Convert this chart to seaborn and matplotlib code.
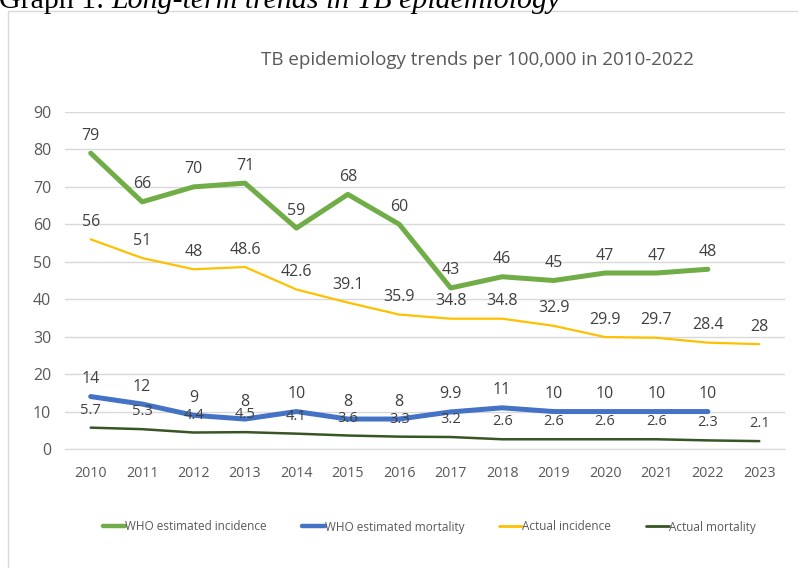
import matplotlib
matplotlib.use("Agg")
import matplotlib.pyplot as plt
import seaborn as sns
import pandas as pd
from matplotlib.patches import Rectangle

# ---- data ----
years = [2010, 2011, 2012, 2013, 2014, 2015, 2016, 2017, 2018, 2019, 2020, 2021, 2022, 2023]
who_incidence = [79, 66, 70, 71, 59, 68, 60, 43, 46, 45, 47, 47, 48]
who_mortality = [14, 12, 9, 8, 10, 8, 8, 9.9, 11, 10, 10, 10, 10]
actual_incidence = [56, 51, 48, 48.6, 42.6, 39.1, 35.9, 34.8, 34.8, 32.9, 29.9, 29.7, 28.4, 28]
actual_mortality = [5.7, 5.3, 4.4, 4.5, 4.1, 3.6, 3.3, 3.2, 2.6, 2.6, 2.6, 2.6, 2.3, 2.1]
series_names = ["WHO estimated incidence", "WHO estimated mortality",
                "Actual incidence", "Actual mortality"]
title = "TB epidemiology trends per 100,000 in 2010-2022"
y_ticks = [0, 10, 20, 30, 40, 50, 60, 70, 80, 90]

sns.set_style("white")
plt.rcParams["font.family"] = ["Open Sans", "DejaVu Sans"]

W, H = 798, 568
fig = plt.figure(figsize=(W / 100, H / 100), dpi=100)

# chart border (cropped at right/bottom)
fig.add_artist(Rectangle((8 / W, -0.1), 1.2, 1 - 11 / H + 0.1, transform=fig.transFigure,
                         fill=False, edgecolor="#D9D9D9", lw=1))

ax = fig.add_axes([65 / W, 1 - 449 / H, 720 / W, 337 / H])

styles = [
    (series_names[0], who_incidence, "#70AD47", 3.6, 11.5),
    (series_names[1], who_mortality, "#4472C4", 3.6, 11.5),
    (series_names[2], actual_incidence, "#FFC000", 1.6, 11.5),
    (series_names[3], actual_mortality, "#375623", 1.8, 10.5),
]

for name, vals, col, lw, _ in styles:
    df = pd.DataFrame({"year": years[:len(vals)], "value": vals})
    sns.lineplot(data=df, x="year", y="value", ax=ax, color=col, linewidth=lw,
                 label=name, solid_capstyle="round", solid_joinstyle="round")

for name, vals, col, lw, fs in styles:
    for x, v in zip(years, vals):
        ax.annotate(f"{v:g}", (x, v), xytext=(0, 12.6), textcoords="offset points",
                    ha="center", va="center", fontsize=fs, color="#404040")

handles, labels = ax.get_legend_handles_labels()
ax.get_legend().remove()

ax.set_xlim(years[0] - 0.5, years[-1] + 0.5)
ax.set_ylim(0, 90)
ax.set_xticks(years)
ax.set_xticklabels([str(y) for y in years])
ax.set_yticks(y_ticks)
ax.set_xlabel("")
ax.set_ylabel("")
ax.tick_params(axis="x", length=0, pad=12, labelsize=10.3, labelcolor="#595959")
ax.tick_params(axis="y", length=0, pad=10, labelsize=11.5, labelcolor="#595959")
ax.yaxis.grid(True, color="#D9D9D9", lw=1)
ax.set_axisbelow(True)
for s in ["left", "right", "top"]:
    ax.spines[s].set_visible(False)
ax.spines["bottom"].set_color("#D9D9D9")
ax.patch.set_alpha(0)

fig.text(477 / W, 1 - 60 / H, title, ha="center", va="center", fontsize=13.5, color="#595959")

leg = fig.legend(handles, labels, loc="center", bbox_to_anchor=(429 / W, 1 - 527 / H), ncol=4,
                 frameon=False, handlelength=1.9, handletextpad=0.0, columnspacing=3.0,
                 prop={"size": 8.5}, labelcolor="#595959")
for h, (_, _, _, lw, _) in zip(leg.get_lines(), styles):
    h.set_linewidth(3.2 if lw > 2 else 2.0)
    h.set_solid_capstyle("round")

# caption (cut off at the top)
t1 = fig.text(-1 / W, 1 - 8 / H, "Graph 1: ", family=["Liberation Serif", "DejaVu Serif"],
              fontsize=21.5, va="baseline", ha="left", color="black")
fig.canvas.draw()
bb = t1.get_window_extent()
fig.text(bb.x1 / W, 1 - 8 / H, "Long-term trends in TB epidemiology",
         family=["Liberation Serif", "DejaVu Serif"], style="italic",
         fontsize=21.5, va="baseline", ha="left", color="black")

fig.savefig("out.png", dpi=100)
